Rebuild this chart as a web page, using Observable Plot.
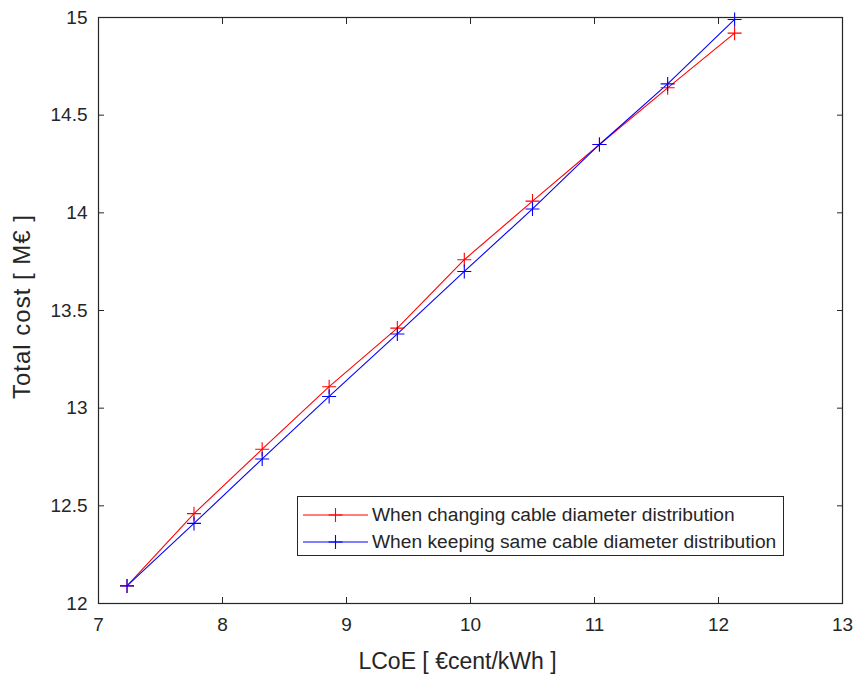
<!DOCTYPE html>
<html>
<head>
<meta charset="utf-8">
<script src="https://cdn.jsdelivr.net/npm/d3@7"></script>
<script src="https://cdn.jsdelivr.net/npm/@observablehq/plot@0.6"></script>
<style>
  html, body { margin: 0; padding: 0; background: #fff; }
  #wrap { position: relative; width: 857px; height: 679px; font-family: "Liberation Sans", Arial, sans-serif; }
  #legend { position: absolute; left: 297px; top: 496px; width: 487px; height: 60px; border: 1px solid #262626; background: #fff; box-sizing: border-box; }
  .row { position: absolute; left: 0; height: 20px; display: flex; align-items: center; }
  .row svg { margin-left: 5px; }
  .row span { margin-left: 4px; font-size: 19.2px; color: #262626; white-space: nowrap; }
  .ylab text { letter-spacing: 1px; }
</style>
</head>
<body>
<div id="wrap"></div>
<script>
const lcoe = [7.23, 7.77, 8.32, 8.86, 9.41, 9.95, 10.50, 11.04, 11.59, 12.13];
const costChanging = [12.09, 12.46, 12.79, 13.11, 13.41, 13.76, 14.06, 14.35, 14.64, 14.92];
const costKeeping  = [12.09, 12.41, 12.74, 13.06, 13.38, 13.70, 14.02, 14.35, 14.66, 14.99];
const seriesNames = ["When changing cable diameter distribution", "When keeping same cable diameter distribution"];
const seriesColors = ["#ff0000", "#0000ff"];
const xTicks = [7, 8, 9, 10, 11, 12, 13];
const yTicks = [12, 12.5, 13, 13.5, 14, 14.5, 15];

const data = [];
lcoe.forEach((x, i) => data.push({x, y: costChanging[i], s: seriesNames[0]}));
lcoe.forEach((x, i) => data.push({x, y: costKeeping[i], s: seriesNames[1]}));

const thinPlus = {
  draw(ctx, size) {
    const r = Math.sqrt(size / Math.PI);
    ctx.moveTo(-r, 0); ctx.lineTo(r, 0);
    ctx.moveTo(0, -r); ctx.lineTo(0, r);
  }
};

const ink = "#262626";
const fmt = d => String(d);
const chart = Plot.plot({
  width: 857,
  height: 679,
  marginLeft: 98,
  marginRight: 15,
  marginTop: 17,
  marginBottom: 76,
  style: {fontFamily: "'Liberation Sans', Arial, sans-serif", fontSize: "19px", color: ink, background: "#fff"},
  x: {domain: [7, 13]},
  y: {domain: [12, 15]},
  color: {domain: seriesNames, range: seriesColors},
  marks: [
    Plot.line(data, {x: "x", y: "y", z: "s", stroke: "s", strokeWidth: 1.1}),
    Plot.dot(data, {x: "x", y: "y", stroke: "s", symbol: thinPlus, r: 7, fill: "none", strokeWidth: 1.1}),
    Plot.axisX({ticks: xTicks, tickSize: 0, tickPadding: 14, tickFormat: fmt, label: null, fill: ink}),
    Plot.axisX({ticks: xTicks, tickSize: -6, tickFormat: () => "", label: null, stroke: ink}),
    Plot.axisX({anchor: "top", ticks: xTicks, tickSize: -6, tickFormat: () => "", label: null, stroke: ink}),
    Plot.axisY({ticks: yTicks, tickSize: 0, tickPadding: 11, tickFormat: fmt, label: null, fill: ink}),
    Plot.axisY({ticks: yTicks, tickSize: -6, tickFormat: () => "", label: null, stroke: ink}),
    Plot.axisY({anchor: "right", ticks: yTicks, tickSize: -6, tickFormat: () => "", label: null, stroke: ink}),
    Plot.frame({stroke: ink, strokeWidth: 1.2}),
    Plot.text(["LCoE [ €cent/kWh ]"], {frameAnchor: "bottom", dx: -13, dy: 65, fontSize: 23, fill: ink, text: d => d}),
    Plot.text(["Total cost [ M€ ]"], {frameAnchor: "left", textAnchor: "middle", dx: -76, dy: -4, rotate: -90, fontSize: 24, fill: ink, text: d => d, className: "ylab"})
  ]
});

const wrap = document.getElementById("wrap");
wrap.appendChild(chart);

const legend = document.createElement("div");
legend.id = "legend";
seriesNames.forEach((name, i) => {
  const row = document.createElement("div");
  row.className = "row";
  row.style.top = (i === 0 ? 7.5 : 35) + "px";
  row.innerHTML = `<svg width="65" height="20"><line x1="0" y1="10" x2="65" y2="10" stroke="${seriesColors[i]}" stroke-width="1.1"/><line x1="32.5" y1="3" x2="32.5" y2="17" stroke="${seriesColors[i]}" stroke-width="1.1"/><line x1="25.5" y1="10" x2="39.5" y2="10" stroke="${seriesColors[i]}" stroke-width="1.1"/></svg><span>${name}</span>`;
  legend.appendChild(row);
});
wrap.appendChild(legend);
</script>
</body>
</html>
